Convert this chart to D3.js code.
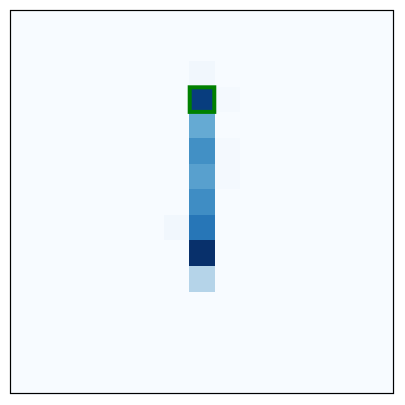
<!DOCTYPE html>
<html><head><meta charset="utf-8">
<script src="https://cdn.jsdelivr.net/npm/d3@7"></script>
<style>body{margin:0;background:#fff}</style>
</head><body>
<svg id="c" width="405" height="405"></svg>
<script>
const rowIds = d3.range(15);
const colIds = d3.range(15);
const values = [
 [0,0,0,0,0,0,0,0,0,0,0,0,0,0,0],
 [0,0,0,0,0,0,0,0,0,0,0,0,0,0,0],
 [0,0,0,0,0,0,0,0.03,0,0,0,0,0,0,0],
 [0,0,0,0,0,0,0,0.95,0.015,0,0,0,0,0,0],
 [0,0,0,0,0,0,0,0.52,0,0,0,0,0,0,0],
 [0,0,0,0,0,0,0,0.63,0.015,0,0,0,0,0,0],
 [0,0,0,0,0,0,0,0.56,0.015,0,0,0,0,0,0],
 [0,0,0,0,0,0,0,0.64,0,0,0,0,0,0,0],
 [0,0,0,0,0,0,0.03,0.73,0,0,0,0,0,0,0],
 [0,0,0,0,0,0,0,1.0,0,0,0,0,0,0,0],
 [0,0,0,0,0,0,0,0.3,0,0,0,0,0,0,0],
 [0,0,0,0,0,0,0,0,0,0,0,0,0,0,0],
 [0,0,0,0,0,0,0,0,0,0,0,0,0,0,0],
 [0,0,0,0,0,0,0,0,0,0,0,0,0,0,0],
 [0,0,0,0,0,0,0,0,0,0,0,0,0,0,0]
];
const highlight = {row: 3, col: 7};

const svg = d3.select("#c");
const L = 10, T = 10, W = 384, H = 384;
const x = d3.scaleBand().domain(colIds).range([L, L + W]);
const y = d3.scaleBand().domain(rowIds).range([T, T + H]);
const color = d3.scaleSequential(d3.interpolateBlues).domain([0, 1]);

const cells = [];
values.forEach((r, i) => r.forEach((v, j) => cells.push({i, j, v})));
svg.append("g").attr("shape-rendering", "crispEdges").selectAll("rect").data(cells).join("rect")
  .attr("x", d => x(d.j)).attr("y", d => y(d.i))
  .attr("width", x.bandwidth() + 0.5).attr("height", y.bandwidth() + 0.5)
  .attr("fill", d => color(d.v));

svg.append("rect")
  .attr("x", x(highlight.col) + 0.5).attr("y", y(highlight.row) + 0.5)
  .attr("width", x.bandwidth() - 1).attr("height", y.bandwidth() - 1)
  .attr("fill", "none").attr("stroke", "#008000").attr("stroke-width", 4);

svg.append("rect").attr("x", L + 0.5).attr("y", T + 0.5).attr("width", W - 1).attr("height", H - 1)
  .attr("fill", "none").attr("stroke", "#000").attr("stroke-width", 1.2);
</script>
</body></html>
